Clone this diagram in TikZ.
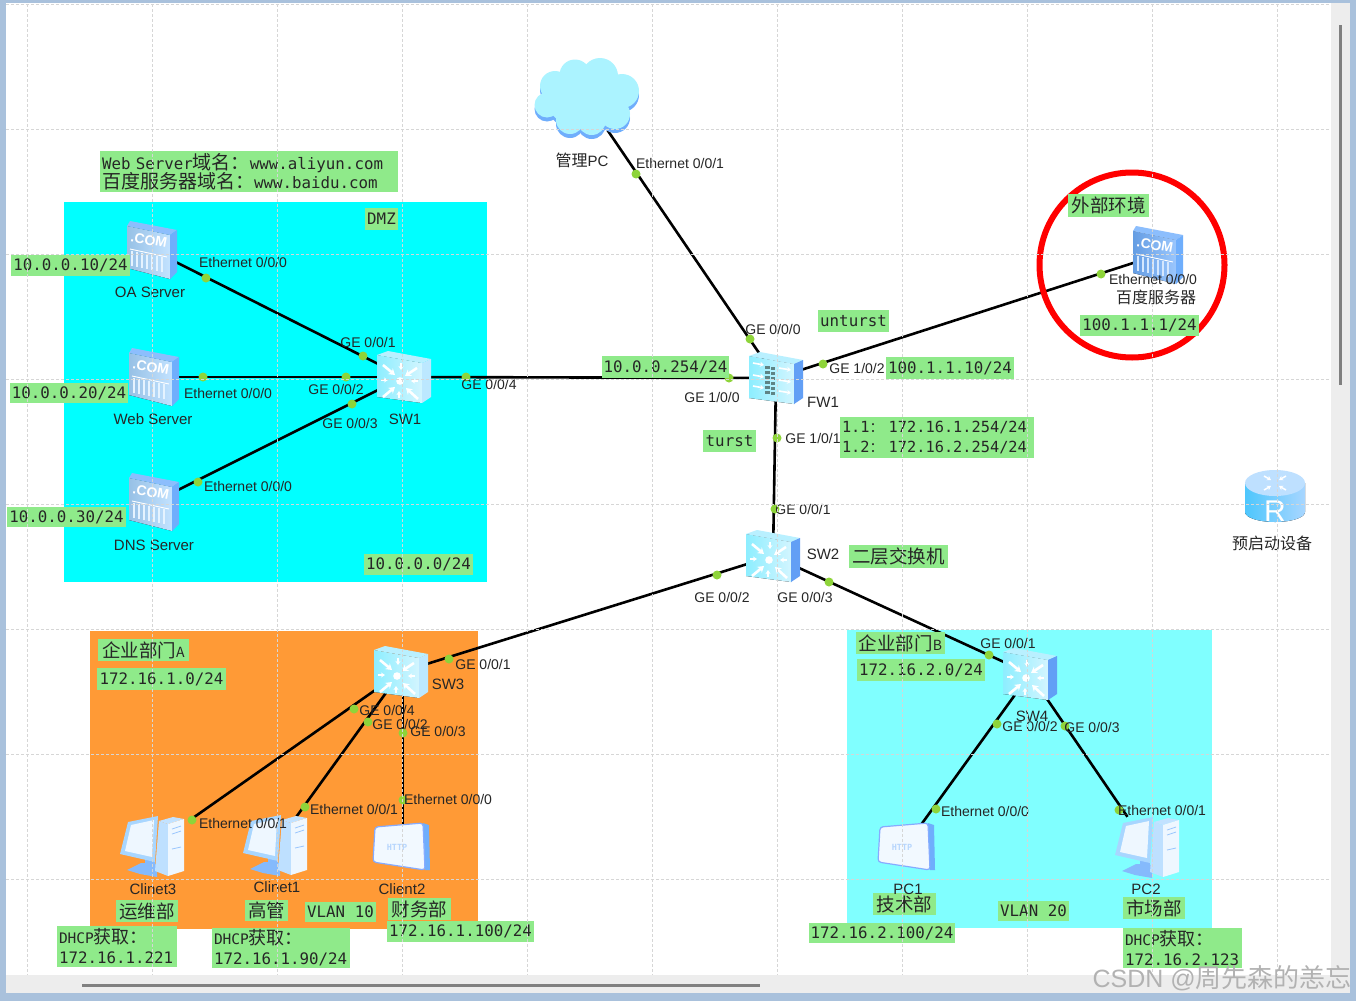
\documentclass[tikz,border=0pt]{standalone}
\usepackage{fontspec}
\setmainfont{Liberation Sans}
\setmonofont{DejaVu Sans Mono}
\newfontfamily\cjkf{Noto Sans CJK SC}
\usetikzlibrary{arrows.meta}
\definecolor{lblgreen}{HTML}{8FEA8A}
\definecolor{dotgreen}{HTML}{8ED43A}
\definecolor{orangebg}{HTML}{FF9A36}
\definecolor{cyanbg}{HTML}{00FFFF}
\definecolor{paleCyan}{HTML}{80FFFF}
\definecolor{frameblue}{HTML}{A9C1DC}
\definecolor{barcol}{HTML}{EDEDED}
\definecolor{gridcol}{HTML}{D6D6D6}
\definecolor{deep}{HTML}{629FF5}
\definecolor{pale}{HTML}{BCE8FF}
\definecolor{swfront}{HTML}{A6EBFF}
\definecolor{swtop}{HTML}{B9F0FF}
\definecolor{srvA}{HTML}{A8D6FF}
\definecolor{srvB}{HTML}{6FAEFC}
\definecolor{paleCl}{HTML}{ABF3FF}
\definecolor{brick}{HTML}{5F8485}
\newcommand{\cjs}[2][18]{{\cjkf\fontsize{#1}{#1}\selectfont #2}}
\newcommand{\lblbox}[7][]{\node[lbl,minimum width={(#5-#3)*1pt},minimum height={(#6-#4)*1pt},#1] (#2) at ({(#3+#5)/2},{(#4+#6)/2}) {#7};}
\newcommand{\plb}[4]{\node[plab] (#1) at (#2,#3) {#4};}
\newcommand{\dnm}[4]{\node[plab,font=\fontsize{15}{16}\selectfont] (#1) at (#2,#3) {#4};}
\tikzset{
 lbl/.style={fill=lblgreen,inner sep=0pt,font=\ttfamily\fontsize{15.8}{20}\selectfont,text=black!85},
 plab/.style={inner sep=0pt,font=\fontsize{14}{16}\selectfont,text=black!85},
 cnlab/.style={inner sep=0pt,text=black!85},
 pdot/.style={circle,fill=dotgreen,inner sep=0pt,minimum size=9pt},
 dev/.style={inner sep=0pt,minimum width=36pt,minimum height=36pt},
 link/.style={draw=black,line width=2.6pt},
 wing/.style={white,line width=2.6pt,-{Stealth[length=6pt,width=7.5pt]}},
 pics/swbody/.style={code={
   \fill[left color=swfront!85!cyan,right color=swfront!50!white] (-27,-22)--(18,-14)--(18,26)--(-27,20)--cycle;
   \fill[swtop] (-27,-22)--(-16,-26)--(27,-18)--(18,-14)--cycle;
   \fill[#1] (18,-14)--(27,-18)--(27,20)--(18,26)--cycle;
 }},
 pics/swic/.style={code={
   \pic {swbody=#1};
   \foreach \a/\b/\c/\d in {-21/-12/-9/-2, 13/-9/1/-1, -21/20/-9/10, 14/22/2/11}{\draw[wing] (\a,\b)--(\c,\d);}
   \foreach \a/\b/\c/\d in {-3/-14/-3/-7, 14/4/7/4, -23/3/-16/3, -5/21/-5/14}{\draw[wing,line width=1.6pt,-{Stealth[length=4pt,width=5pt]}] (\a,\b)--(\c,\d);}
   \fill[white] (-4,4) circle (3.8);
 }},
 pics/fwic/.style={code={
   \pic {swbody=deep};
   \foreach \yy in {-10,2,13}{
     \draw[wing,line width=1.6pt,-{Stealth[length=4pt,width=5pt]}] (-23,\yy-5)--(-12,\yy-3);
     \draw[wing,line width=1.6pt,-{Stealth[length=4pt,width=5pt]}] (3,\yy)--(15,\yy+2);
   }
   \foreach \yy in {-11,-6,-1,4,9,14}{
     \fill[brick] (-11,\yy-1) rectangle (-6.5,\yy+2);
     \fill[brick] (-5.5,\yy) rectangle (-1,\yy+3);
   }
 }},
 pics/srvic/.style={code={
   \fill[left color=#1!90!black,right color=#1!70!white] (-25,-24)--(18,-15)--(18,29)--(-25,18)--cycle;
   \fill[srvB!80!white] (-25,-24)--(-22,-29)--(25,-20)--(18,-15)--cycle;
   \fill[srvB] (18,-15)--(25,-20)--(25,22)--(18,29)--cycle;
   \node[rotate=-10,white,inner sep=0pt,font=\bfseries\fontsize{14}{14}\selectfont] at (-3,-10) {.COM};
   \draw[white,line width=.9pt] (-22,-1)--(15,7);
   \foreach \xx in {-20,-15,...,10}{\draw[white!70!#1,line width=1.1pt] (\xx,2+.2*\xx+3)--(\xx,16+.2*\xx+4);}
 }},
 pics/pcic/.style={code={
   \fill[srvB!85!white] (-8,8)--(2,8)--(2,20)--(-8,20)--cycle;
   \fill[srvB!85!white] (-26,24)--(-12,17)--(4,18)--(4,31)--(-13,28)--cycle;
   \fill[srvA!75!white] (6,-25)--(15,-22)--(15,30)--(2,25)--cycle;
   \fill[srvA!70!white] (6,-25)--(20,-29)--(31,-27)--(15,-22)--cycle;
   \fill[white!80!srvA] (15,-22)--(31,-27)--(31,25)--(15,30)--cycle;
   \draw[srvB!70!white,line width=.8pt] (19,-17)--(28,-20) (19,-12)--(28,-15) (19,3)--(28,1);
   \fill[srvA] (-25,-24)--(5,-30)--(2,16)--(-33,8)--cycle;
   \fill[white!80!srvA] (-22,-21)--(1,-26)--(-1,11)--(-28,5)--cycle;
 }},
 pics/httpic/.style={code={
   \fill[srvB] (23,-24)--(29,-22)--(30,23)--(25,23)--cycle;
   \fill[white!85!srvA,draw=srvA!80!blue,line width=1.2pt,rounded corners=3pt] (-25,-20)--(23,-24)--(25,23)--(-27,15)--cycle;
   \node[inner sep=0pt,text=srvB!50!white,font=\ttfamily\bfseries\fontsize{8.5}{9}\selectfont] at (-3,0) {HTTP};
 }},
 pics/cloudic/.style={code={
   \foreach \cc/\dy in {srvB/4, paleCl/0}{
     \begin{scope}[yshift=\dy*-1pt]
     \fill[\cc] (0,-3.3) ellipse [x radius=42,y radius=32];
     \foreach \a/\b/\r in {-32/-14/15,-12/-25/15.5,13/-24/18,35/-9/17,-40/5/12.5,-17/20/14,4.7/21/14,28/14/15}{\fill[\cc] (\a,\b) circle (\r);}
     \end{scope}
   }
 }},
 pics/routeric/.style={code={
   \fill[left color=srvB!70!cyan,right color=srvA] (-29,-15)--(-29,14) arc[start angle=180,end angle=0,x radius=30,y radius=10] --(31,-15)--cycle;
   \fill[white!25!srvA] (1,-15) ellipse [x radius=30,y radius=13];
   \foreach \a/\b/\c/\d in {-10/-22/-3/-18,12/-22/5/-18,-10/-8/-3/-12,12/-8/5/-12}{\draw[white,line width=1.5pt,-{Stealth[length=4pt,width=5pt]}] (\a,\b)--(\c,\d);}
   \node[white,inner sep=0pt,font=\fontsize{30}{30}\selectfont] at (1,13) {R};
 }},
}
\begin{document}
\begin{tikzpicture}[x=1pt,y=-1pt]
\useasboundingbox (0,0) rectangle (1356,1001);
\fill[white] (0,0) rectangle (1356,1001);
% zones
\fill[cyanbg] (64,202) rectangle (487,582);
\fill[orangebg] (90,631) rectangle (478,929);
\fill[paleCyan] (847,630) rectangle (1212,928);
% devices
\node[dev] (oa) at (152,250) {};
\node[dev] (web) at (154,377) {};
\node[dev] (dns) at (154,502) {};
\node[dev] (sw1) at (404,377) {};
\node[dev] (fw1) at (776,378) {};
\node[dev] (sw2) at (773,556) {};
\node[dev] (sw3) at (401,672) {};
\node[dev] (sw4) at (1030,674) {};
\node[dev,minimum width=70pt,minimum height=60pt] (cloud) at (587,100) {};
\node[dev] (baidu) at (1158,255) {};
\node[dev,minimum width=74pt,minimum height=50pt] (c3) at (153,846) {};
\node[dev,minimum width=56pt,minimum height=56pt] (c1) at (276,845) {};
\node[dev,minimum height=46pt] (c2) at (403,847) {};
\node[dev,minimum height=46pt] (pc1) at (905,847) {};
\node[dev,minimum width=56pt,minimum height=60pt] (pc2) at (1148,847) {};
\node[dev] (rt) at (1274,498) {};
% connectors
\draw[link] (oa) -- (sw1);
\draw[link] (web) -- (sw1);
\draw[link] (dns) -- (sw1);
\draw[link] (sw1) -- (fw1);
\draw[link] (cloud) -- (fw1);
\draw[link] (fw1) -- (baidu);
\draw[link] (fw1) -- (sw2);
\draw[link] (sw2) -- (sw3);
\draw[link] (sw2) -- (sw4);
\draw[link] (sw3) -- (c3);
\draw[link] (sw3) -- (c1);
\draw[link] (sw3.south -| c2) -- (c2);
\draw[link] (sw4) -- (pc1);
\draw[link] (sw4) -- (pc2);
% icons
\pic at (oa.center) {srvic=srvA};
\pic at (web.center) {srvic=srvA};
\pic at (dns.center) {srvic=srvA};
\pic at (baidu.center) {srvic=srvB};
\pic at (sw1.center) {swic=pale};
\pic at (sw2.center) {swic=deep};
\pic at (sw3.center) {swic=pale};
\pic at (sw4.center) {swic=deep};
\pic at (fw1.center) {fwic};
\pic at (cloud.center) {cloudic};
\pic at (c3.center) {pcic};
\pic at (c1.center) {pcic};
\pic at (pc2.center) {pcic};
\pic at (400,847) {httpic};
\pic at (pc1.center) {httpic};
\pic at (rt.center) {routeric};
% red circle
\draw[red,line width=6pt] (1132,265) circle (92.5);
% port dots
\foreach \n/\a/\b in {d1/206/278,d2/363/356,d3/203/377,d4/346/377,d5/352/404,d6/198/482,d7/466/377,d8/750/339,d9/729/378,d10/823/364,d11/777/438,d12/636/174,d13/1101/274,d14/775/509,d15/717/575,d16/829/582,d17/449/659,d18/354/709,d19/368/722,d20/403/733,d21/192/820,d22/305/807,d23/403/800,d24/989/655,d25/997/724,d26/1065/726,d27/936/809,d28/1119/810}{\node[pdot] (\n) at (\a,\b) {};}
% green labels
\lblbox[align=left,text width=294pt]{ltop}{100}{151}{398}{192}{Web Server\cjs[19]{域名：}www.aliyun.com\\[-1pt]\cjs[19]{百度服务器域名：}www.baidu.com}
\lblbox{ldmz}{365}{208}{398}{230}{DMZ}
\lblbox{lnet}{364}{554}{473}{575}{10.0.0.0/24}
\lblbox{lip1}{11}{255}{130}{276}{10.0.0.10/24}
\lblbox{lip2}{10}{383}{128}{403}{10.0.0.20/24}
\lblbox{lip3}{7}{507}{126}{527}{10.0.0.30/24}
\lblbox{lunt}{818}{310}{889}{332}{unturst}
\lblbox{lfwa}{602}{356}{729}{378}{10.0.0.254/24}
\lblbox{lfwb}{886}{357}{1014}{379}{100.1.1.10/24}
\lblbox{ltur}{703}{430}{756}{452}{turst}
\lblbox[align=left,text width=190pt,font=\ttfamily\fontsize{15.3}{20}\selectfont]{lsub}{840}{417}{1034}{458}{1.1\cjs[14]{：} 172.16.1.254/24\\1.2\cjs[14]{：} 172.16.2.254/24}
\lblbox{lsw2}{849}{545}{948}{568}{\cjs[18.5]{二层交换机}}
\lblbox{lext}{1068}{194}{1149}{217}{\cjs[18.5]{外部环境}}
\lblbox{lbai}{1080}{315}{1199}{336}{100.1.1.1/24}
\lblbox{lda}{98}{639}{189}{661}{\cjs[18.5]{企业部门}\cjs[14]{A}}
\lblbox{lna}{97}{668}{226}{690}{172.16.1.0/24}
\lblbox{lyw}{116}{900}{178}{922}{\cjs[18.5]{运维部}}
\lblbox{lgg}{245}{900}{288}{921}{\cjs[18.5]{高管}}
\lblbox{lv10}{305}{902}{376}{922}{VLAN 10}
\lblbox{lcw}{388}{898}{451}{920}{\cjs[18.5]{财务部}}
\lblbox{lipc2}{387}{921}{534}{942}{172.16.1.100/24}
\lblbox[align=left,text width=116pt]{ldh1}{57}{926}{177}{967}{{\fontsize{14.5}{20}\selectfont DHCP}\cjs{获取：}\\172.16.1.221}
\lblbox[align=left,text width=134pt]{ldh2}{212}{928}{350}{968}{{\fontsize{14.5}{20}\selectfont DHCP}\cjs{获取：}\\172.16.1.90/24}
\lblbox{ldb}{856}{632}{945}{654}{\cjs[18.5]{企业部门}\cjs[14]{B}}
\lblbox{lnb}{857}{659}{985}{681}{172.16.2.0/24}
\lblbox{ljs}{873}{893}{936}{915}{\cjs[18.5]{技术部}}
\lblbox{lv20}{998}{901}{1069}{921}{VLAN 20}
\lblbox{lsc}{1123}{897}{1185}{919}{\cjs[18.5]{市场部}}
\lblbox{lipp1}{809}{923}{955}{943}{172.16.2.100/24}
\lblbox[align=left,text width=115pt]{ldh3}{1123}{928}{1242}{968}{{\fontsize{14.5}{20}\selectfont DHCP}\cjs{获取：}\\172.16.2.123}
% port labels
\plb{t1}{243}{262}{Ethernet 0/0/0}
\plb{t2}{368}{342}{GE 0/0/1}
\plb{t3}{228}{393}{Ethernet 0/0/0}
\plb{t4}{336}{389}{GE 0/0/2}
\plb{t5}{350}{423}{GE 0/0/3}
\plb{t6}{248}{486}{Ethernet 0/0/0}
\plb{t7}{489}{384}{GE 0/0/4}
\plb{t8}{773}{329}{GE 0/0/0}
\plb{t9}{712}{397}{GE 1/0/0}
\plb{t10}{857}{368}{GE 1/0/2}
\plb{t11}{813}{438}{GE 1/0/1}
\plb{t12}{680}{163}{Ethernet 0/0/1}
\plb{t13}{1153}{279}{Ethernet 0/0/0}
\plb{t14}{803}{509}{GE 0/0/1}
\plb{t15}{722}{597}{GE 0/0/2}
\plb{t16}{805}{597}{GE 0/0/3}
\plb{t17}{483}{664}{GE 0/0/1}
\plb{t18}{387}{710}{GE 0/0/4}
\plb{t19}{400}{724}{GE 0/0/2}
\plb{t20}{438}{731}{GE 0/0/3}
\plb{t21}{243}{823}{Ethernet 0/0/1}
\plb{t22}{354}{809}{Ethernet 0/0/1}
\plb{t23}{448}{799}{Ethernet 0/0/0}
\plb{t24}{1008}{643}{GE 0/0/1}
\plb{t25}{1030}{726}{GE 0/0/2}
\plb{t26}{1092}{727}{GE 0/0/3}
\plb{t27}{985}{811}{Ethernet 0/0/0}
\plb{t28}{1162}{810}{Ethernet 0/0/1}
% device names
\dnm{n1}{150}{292}{OA Server}
\dnm{n2}{153}{419}{Web Server}
\dnm{n3}{154}{545}{DNS Server}
\dnm{n4}{405}{419}{SW1}
\dnm{n5}{823}{402}{FW1}
\dnm{n6}{823}{554}{SW2}
\dnm{n7}{448}{684}{SW3}
\dnm{n8}{1032}{716}{SW4}
\dnm{n9}{153}{889}{Clinet3}
\dnm{n10}{277}{887}{Clinet1}
\dnm{n11}{402}{889}{Client2}
\dnm{n12}{908}{889}{PC1}
\dnm{n13}{1146}{889}{PC2}
\node[cnlab] (ncl) at (582,160) {\cjs[16]{管理}{\fontsize{15}{16}\selectfont PC}};
\node[cnlab] (nbd) at (1156,297) {\cjs[16]{百度服务器}};
\node[cnlab] (nrt) at (1272,543) {\cjs[16]{预启动设备}};
% grid on top
\begin{scope}[gridcol,line width=.8pt,dash pattern=on 3pt off 2pt]
\foreach \xx in {27,152,...,1277}{\draw (\xx,4) -- (\xx,975);}
\foreach \yy in {4,129,...,879}{\draw (6,\yy) -- (1331,\yy);}
\end{scope}
% window frame
\fill[barcol] (6,975) rectangle (1350,993);
\fill[barcol] (1331,3) rectangle (1350,975);
\draw[black!50,line width=3pt] (82,985) -- (760,985);
\draw[black!50,line width=3pt] (1340,25) -- (1340,385);
\fill[frameblue] (0,0) rectangle (6,1001);
\fill[frameblue] (0,0) rectangle (1356,3);
\fill[frameblue] (1350,0) rectangle (1356,1001);
\fill[frameblue] (0,993) rectangle (1356,1001);
% watermark
\node[inner sep=0pt,anchor=east,text=black!30,font=\fontsize{25}{26}\selectfont] (wm) at (1352,978) {CSDN @\cjs[26]{周先森的恙忘}};
\end{tikzpicture}
\end{document}
